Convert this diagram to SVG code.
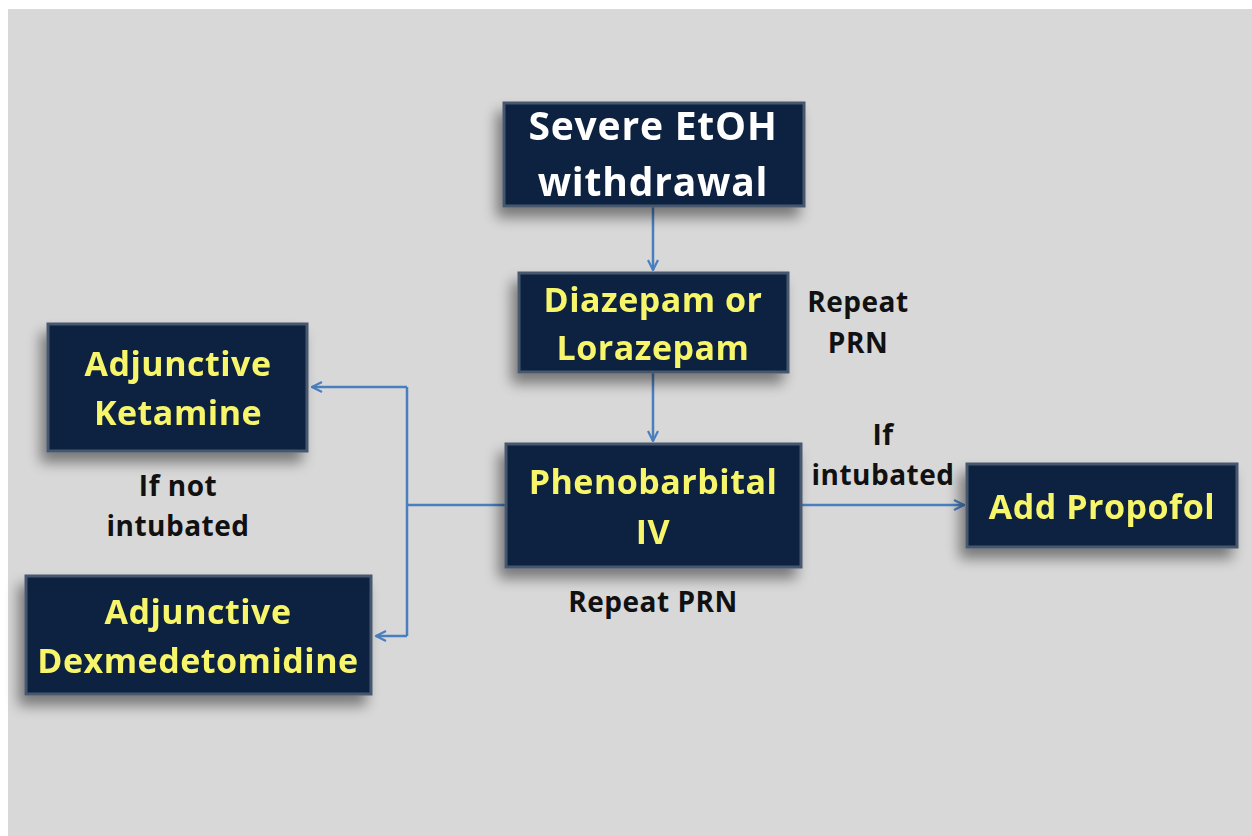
<svg xmlns="http://www.w3.org/2000/svg" width="1252" height="836" viewBox="0 0 1252 836">
<defs>
<filter id="sh" x="-20%" y="-20%" width="140%" height="150%">
<feGaussianBlur in="SourceAlpha" stdDeviation="7"/>
<feOffset dx="-6" dy="10" result="b"/>
<feComponentTransfer><feFuncA type="linear" slope="0.45"/></feComponentTransfer>
<feMerge><feMergeNode/><feMergeNode in="SourceGraphic"/></feMerge>
</filter>
<marker id="ah" viewBox="0 0 12 12" refX="11" refY="6" markerWidth="12" markerHeight="12" markerUnits="userSpaceOnUse" orient="auto">
<path d="M1,1 L11,6 L1,11" fill="none" stroke="#4a7fbf" stroke-width="2.2"/>
</marker>
</defs>
<style>
.box{fill:#10233f;stroke:#46586e;stroke-width:3}
.t{font-family:"Open Sans",Lato,sans-serif;font-weight:bold;text-anchor:middle}
.w{fill:#ffffff;font-size:39px;letter-spacing:0.8px}
.y{fill:#f7f56a;font-size:34px;letter-spacing:0.5px}
.lbl{fill:#111111;font-size:28px;letter-spacing:0.5px}
.c{fill:none;stroke:#4a7fbf;stroke-width:2.5}
</style>
<rect x="0" y="0" width="1252" height="836" fill="#ffffff"/>
<rect x="8" y="9" width="1244" height="827" fill="#d8d8d8"/>
<g id="connectors">
<line class="c" x1="653" y1="207" x2="653" y2="270" marker-end="url(#ah)"/>
<line class="c" x1="653" y1="373" x2="653" y2="441" marker-end="url(#ah)"/>
<line class="c" x1="505" y1="505" x2="407" y2="505"/>
<line class="c" x1="407" y1="387" x2="407" y2="636"/>
<line class="c" x1="407" y1="387" x2="312" y2="387" marker-end="url(#ah)"/>
<line class="c" x1="407" y1="636" x2="376" y2="636" marker-end="url(#ah)"/>
<line class="c" x1="802" y1="505" x2="964" y2="505" marker-end="url(#ah)"/>
</g>
<g id="n-severe" filter="url(#sh)">
<rect class="box" x="504" y="103" width="300" height="103"/>
<text class="t w" x="653" y="140">Severe EtOH</text>
<text class="t w" x="653" y="196">withdrawal</text>
</g>
<g id="n-diazepam" filter="url(#sh)">
<rect class="box" x="519" y="273" width="269" height="99"/>
<text class="t y" x="653" y="312">Diazepam or</text>
<text class="t y" x="653" y="360">Lorazepam</text>
</g>
<g id="n-ketamine" filter="url(#sh)">
<rect class="box" x="48" y="324" width="259" height="127"/>
<text class="t y" x="178" y="376">Adjunctive</text>
<text class="t y" x="178" y="425">Ketamine</text>
</g>
<g id="n-dex" filter="url(#sh)">
<rect class="box" x="26" y="576" width="345" height="118"/>
<text class="t y" x="198" y="624">Adjunctive</text>
<text class="t y" x="198" y="673">Dexmedetomidine</text>
</g>
<g id="n-pheno" filter="url(#sh)">
<rect class="box" x="506" y="444" width="295" height="123"/>
<text class="t y" x="653" y="494">Phenobarbital</text>
<text class="t y" x="653" y="544">IV</text>
</g>
<g id="n-propofol" filter="url(#sh)">
<rect class="box" x="967" y="464" width="270" height="83"/>
<text class="t y" x="1102" y="519">Add Propofol</text>
</g>
<g id="labels">
<text class="t lbl" x="858" y="312">Repeat</text>
<text class="t lbl" x="858" y="353">PRN</text>
<text class="t lbl" x="883" y="445">If</text>
<text class="t lbl" x="883" y="485">intubated</text>
<text class="t lbl" x="178" y="496">If not</text>
<text class="t lbl" x="178" y="536">intubated</text>
<text class="t lbl" x="653" y="612">Repeat PRN</text>
</g>
</svg>
